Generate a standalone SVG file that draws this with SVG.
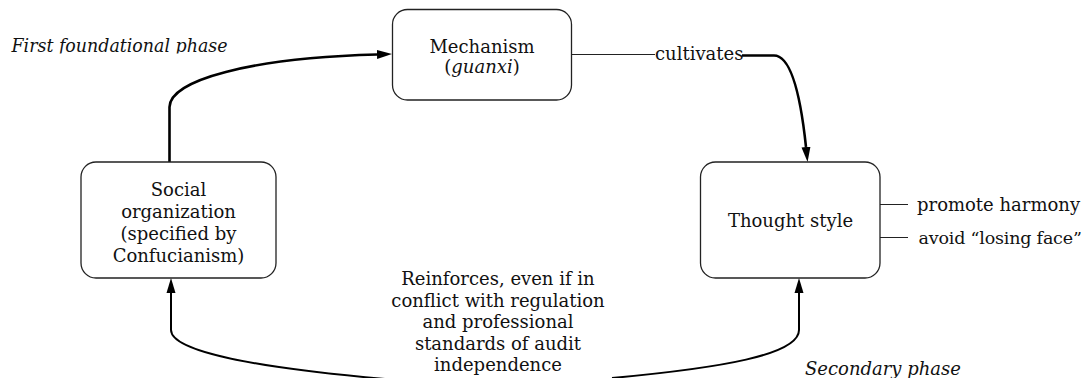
<svg xmlns="http://www.w3.org/2000/svg" width="1088" height="378" viewBox="0 0 1088 378">
<style>
  text { font-family: "DejaVu Serif", "Liberation Serif", serif; font-size: 18px; fill: #111; }
  .c { text-anchor: middle; }
  .it { font-style: italic; }
  .box { fill: #fff; stroke: #222; stroke-width: 1.3; }
  .thick { fill: none; stroke: #000; stroke-width: 2.6; }
  .mid { fill: none; stroke: #000; stroke-width: 2; }
  .thin { fill: none; stroke: #222; stroke-width: 1.2; }
</style>
<defs>
  <marker id="arr" markerUnits="userSpaceOnUse" markerWidth="16" markerHeight="10" viewBox="0 -5 16 10" refX="0" refY="0" orient="auto">
    <path d="M0,-4.5 L15,0 L0,4.5 z" fill="#000"/>
  </marker>
  <clipPath id="clipFirst"><rect x="0" y="0" width="300" height="53.5"/></clipPath>
</defs>

<g id="connectors">
  <path class="thick" d="M169.5,162 V107 C170,80 250,58 377,54.5" marker-end="url(#arr)"/>
  <path class="thin" d="M572,54.5 H655"/>
  <path class="thick" d="M742,55.5 H774 C790,55.5 800,90 806,147" marker-end="url(#arr)"/>
  <path class="mid" d="M385,379 C260,368 171,352 171,330 V293" marker-end="url(#arr)"/>
  <path class="mid" d="M612,378 C720,368 799,355 799,330 V293" marker-end="url(#arr)"/>
  <path class="thin" d="M880,204.5 H908 M880,237.5 H908"/>
</g>

<g id="node-mechanism">
  <rect class="box" x="392.5" y="9.5" width="179" height="90.5" rx="15"/>
  <text class="c" x="482" y="52.5">Mechanism</text>
  <text class="c" x="482" y="72.5">(<tspan class="it">guanxi</tspan>)</text>
</g>

<g id="node-social">
  <rect class="box" x="81" y="162" width="195" height="116" rx="15"/>
  <text class="c" x="178.5" y="196">Social</text>
  <text class="c" x="178.5" y="218">organization</text>
  <text class="c" x="178.5" y="240">(specified by</text>
  <text class="c" x="178.5" y="262">Confucianism)</text>
</g>

<g id="node-thought">
  <rect class="box" x="700.5" y="162" width="179.5" height="116" rx="15"/>
  <text class="c" x="790.5" y="227">Thought style</text>
</g>

<g id="labels">
  <text x="655" y="60">cultivates</text>
  <text x="917" y="211">promote harmony</text>
  <text x="918.5" y="244" style="font-size:17.5px" letter-spacing="-0.2">avoid “losing face”</text>
  <text class="c" x="498" y="285">Reinforces, even if in</text>
  <text class="c" x="498" y="306.5">conflict with regulation</text>
  <text class="c" x="498" y="328">and professional</text>
  <text class="c" x="498" y="349.5">standards of audit</text>
  <text class="c" x="498" y="371">independence</text>
  <text class="it" x="11.5" y="51.5" textLength="216" lengthAdjust="spacingAndGlyphs" clip-path="url(#clipFirst)">First foundational phase</text>
  <text class="it" x="805" y="375">Secondary phase</text>
</g>
</svg>
